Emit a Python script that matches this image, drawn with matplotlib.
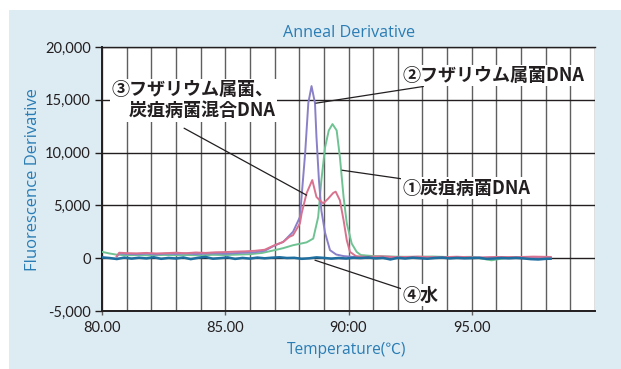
import matplotlib
matplotlib.use('Agg')
from matplotlib import pyplot as plt
from matplotlib.patches import Rectangle
from matplotlib.ticker import MultipleLocator, FixedLocator, FixedFormatter

# water (blank) - noisy line around zero
water_t = [80.0, 80.3, 80.6, 80.9, 81.2, 81.5, 81.8, 82.1, 82.4, 82.7,
           83.0, 83.3, 83.6, 83.9, 84.2, 84.5, 84.8, 85.1, 85.4, 85.7,
           86.0, 86.3, 86.6, 86.9, 87.2, 87.5, 87.8, 88.1, 88.4, 88.7,
           89.0, 89.3, 89.6, 89.9, 90.2, 90.5, 90.8, 91.1, 91.4, 91.7,
           92.0, 92.3, 92.6, 92.9, 93.2, 93.5, 93.8, 94.1, 94.4, 94.7,
           95.0, 95.3, 95.6, 95.9, 96.2, 96.5, 96.8, 97.1, 97.4, 97.7,
           98.0, 98.2]
water_v = [80, 20, -80, 60, -40, 50, -20, 90, -60, 30,
           -30, 70, -90, 40, 120, -50, 10, 80, -70, 30,
           -40, 60, -10, 50, 90, 20, 40, -60, -10, 80,
           30, -40, 20, -30, 40, 10, 70, -20, 30, -120,
           40, -30, 50, 0, -50, 20, 60, -20, 30, -10,
           10, 40, -60, -30, 20, -10, 30, -20, -90, -120,
           -60, -50]

# Fusarium DNA (purple)
fus_t = [80.6, 80.7, 81.0, 81.4, 81.8, 82.2, 82.6, 83.0, 83.4, 83.8,
         84.2, 84.6, 85.0, 85.4, 85.8, 86.2, 86.6, 87.0, 87.35, 87.75,
         88.03, 88.24, 88.37, 88.5, 88.64, 88.7, 88.8, 88.9, 89.05, 89.25,
         89.5, 89.8, 90.2, 90.8, 91.5, 92.2, 93.0, 93.8, 94.6, 95.4,
         96.2, 97.0, 97.8, 98.2]
fus_v = [150, 450, 400, 380, 420, 360, 430, 400, 450, 390,
         430, 460, 420, 480, 520, 560, 700, 1200, 1540, 2500,
         3900, 9900, 14700, 16300, 14700, 11500, 7400, 4500, 2400, 760,
         350, 200, 120, 60, 80, 40, 90, 50, 70, 30,
         60, 20, 40, 30]

# Colletotrichum DNA (green)
col_t = [80.0, 80.3, 80.6, 81.0, 81.5, 82.0, 82.5, 83.0, 83.5, 84.0,
         84.5, 85.0, 85.5, 86.0, 86.5, 87.0, 87.35, 87.75, 88.1, 88.3,
         88.57, 88.77, 88.9, 89.05, 89.2, 89.35, 89.52, 89.65, 89.8, 89.93,
         90.13, 90.33, 90.5, 91.0, 91.8, 92.6, 93.4, 94.2, 95.0, 95.8,
         96.6, 97.4, 98.2]
col_v = [600, 450, 330, 280, 300, 260, 310, 280, 300, 270,
         320, 300, 340, 380, 500, 760, 950, 1230, 1400, 1500,
         1860, 3900, 7400, 10500, 12100, 12700, 12100, 9600, 5800, 3300,
         1390, 600, 300, 200, 150, 120, 160, 100, 130, -200,
         110, 80, 100]

# mixed DNA (pink)
mix_t = [80.6, 80.7, 81.0, 81.4, 81.8, 82.2, 82.6, 83.0, 83.4, 83.8,
         84.2, 84.6, 85.0, 85.4, 85.8, 86.2, 86.6, 87.0, 87.35, 87.6,
         87.75, 88.03, 88.1, 88.3, 88.53, 88.7, 88.9, 88.98, 89.18, 89.38,
         89.48, 89.65, 89.8, 89.93, 90.06, 90.3, 90.7, 91.3, 92.0, 92.8,
         93.6, 94.4, 95.2, 96.0, 96.8, 97.5, 98.2]
mix_v = [200, 520, 480, 460, 500, 450, 480, 520, 470, 540,
         500, 560, 580, 620, 650, 700, 800, 1230, 1540, 2020,
         2180, 3300, 4260, 6150, 7400, 5800, 5330, 5200, 5650, 6180,
         6300, 5490, 3600, 1700, 600, 200, 120, 180, 100, 150,
         80, 140, 60, 120, 100, 150, 120]

x_ticks = [80, 85, 90, 95]
x_labels = ['80.00', '85.00', '90:00', '95.00']
y_ticks = [-5000, 0, 5000, 10000, 15000, 20000]
y_labels = ['-5,000', '0', '5,000', '10,000', '15,000', '20,000']

W, H = 621, 369
fig = plt.figure(figsize=(W / 100, H / 100), dpi=100, facecolor='white')
# light blue panel
fig.patches.append(Rectangle((9 / W, 0), 1 - 9 / W, (H - 10) / H,
                             transform=fig.transFigure, facecolor='#ddebf3',
                             edgecolor='none', zorder=-10))

ax = fig.add_axes([102 / W, (H - 311) / H, (595 - 102) / W, (311 - 47) / H])
ax.set_facecolor('white')
ax.set_xlim(80, 100)
ax.set_ylim(-5000, 20000)

ax.xaxis.set_major_locator(FixedLocator(x_ticks))
ax.xaxis.set_major_formatter(FixedFormatter(x_labels))
ax.xaxis.set_minor_locator(MultipleLocator(1))
ax.yaxis.set_major_locator(FixedLocator(y_ticks))
ax.yaxis.set_major_formatter(FixedFormatter(y_labels))

ax.grid(True, which='both', axis='x', color='#5f5f5f', lw=1.0)
ax.grid(True, which='major', axis='y', color='#231f20', lw=1.0)
ax.set_axisbelow(True)

tick_font = ['Lato', 'DejaVu Sans']
ax.tick_params(axis='y', length=5, width=1, color='#231f20', pad=3,
               labelsize=10.5, labelcolor='#231f20')
ax.tick_params(axis='x', which='major', length=3, width=1, color='#5f5f5f',
               pad=4, labelsize=10.5, labelcolor='#231f20')
ax.tick_params(axis='x', which='minor', length=0)
for lab in ax.get_xticklabels() + ax.get_yticklabels():
    lab.set_family(tick_font)

for s in ['left', 'bottom']:
    ax.spines[s].set_color('#231f20')
    ax.spines[s].set_linewidth(1.4)
ax.spines['top'].set_color('#231f20')
ax.spines['top'].set_linewidth(1.0)
ax.spines['right'].set_visible(False)

ax.plot(col_t, col_v, color='#6fc393', lw=1.4, zorder=3)
ax.plot(fus_t, fus_v, color='#8a80c8', lw=1.4, zorder=3)
ax.plot(mix_t, mix_v, color='#d9728f', lw=1.4, zorder=4)
ax.plot(water_t, water_v, color='#1f6ea0', lw=1.8, zorder=5)

blue = '#2a7db4'
lab_font = ['Open Sans', 'Noto Sans CJK JP', 'DejaVu Sans']
fig.text(349 / W, 1 - 33 / H, 'Anneal Derivative', ha='center', va='center',
         color=blue, fontsize=11.6, family=lab_font)
fig.text(347 / W, 1 - 350 / H, 'Temperature(℃)', ha='center', va='center',
         color=blue, fontsize=11.2, family=lab_font)
fig.text(33 / W, 1 - 180 / H, 'Fluorescence Derivative', ha='center',
         va='center', rotation=90, color=blue, fontsize=12, family=lab_font)

jp = ['Noto Sans CJK JP', 'DejaVu Sans']
box = dict(facecolor='white', edgecolor='none', pad=1)
arrow = dict(arrowstyle='-', color='#231f20', lw=0.9, shrinkA=0, shrinkB=0)

ax.annotate('②フザリウム属菌DNA', xy=(88.68, 14680), xytext=(92.2, 17300),
            ha='left', va='center', fontsize=13, family=jp, weight='bold',
            color='#231f20', bbox=box, arrowprops=arrow, zorder=6)
ax.annotate('①炭疽病菌DNA', xy=(89.74, 8330), xytext=(92.2, 6630),
            ha='left', va='center', fontsize=13, family=jp, weight='bold',
            color='#231f20', bbox=box, arrowprops=arrow, zorder=6)
ax.annotate('④水', xy=(88.64, -190), xytext=(92.2, -3500),
            ha='left', va='center', fontsize=13, family=jp, weight='bold',
            color='#231f20', bbox=box, arrowprops=arrow, zorder=6)
ax.annotate('', xy=(88.3, 5970), xytext=(83.33, 12310),
            arrowprops=arrow, zorder=6)
ax.text(80.37, 14960, '③フザリウム属菌、\n　炭疽病菌混合DNA', ha='left',
        va='center', fontsize=13, family=jp, weight='bold', color='#231f20',
        linespacing=1.15, bbox=box, zorder=6)

fig.savefig('out.png', dpi=100, facecolor='white')
